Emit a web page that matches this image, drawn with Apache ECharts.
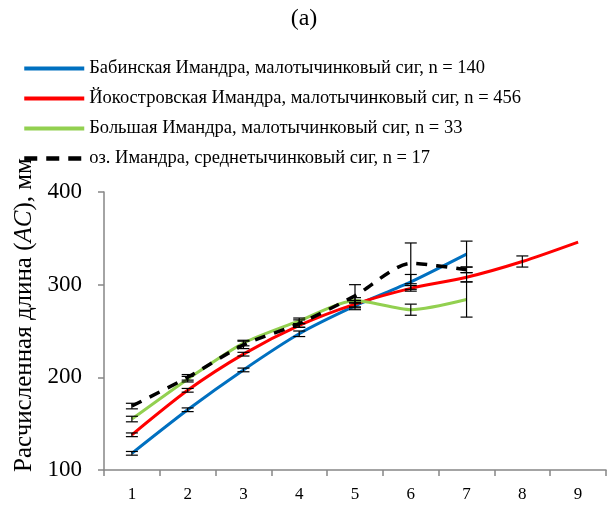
<!DOCTYPE html>
<html>
<head>
<meta charset="utf-8">
<script src="https://cdn.jsdelivr.net/npm/echarts@6/dist/echarts.min.js"></script>
<style>html,body{margin:0;padding:0;background:#fff;}#c{width:608px;height:519px;}</style>
</head>
<body>
<div id="c"></div>
<script>
const categories = ['1','2','3','4','5','6','7','8','9'];
const yTicks = [100, 200, 300, 400];
const seriesNames = [
  'Бабинская Имандра, малотычинковый сиг, n = 140',
  'Йокостровская Имандра, малотычинковый сиг, n = 456',
  'Большая Имандра, малотычинковый сиг, n = 33',
  'оз. Имандра, среднетычинковый сиг, n = 17'
];
const babinska  = [118, 165, 208, 247, 277, 303, 333, null, null];
const yokostrov = [138, 186, 225, 256, 279, 296, 308, 325, 346];
const bolshaya  = [155, 198, 237, 261, 283, 273, 284, null, null];
const imandra   = [169, 200, 235, 258, 288, 323, 316, null, null];
const babinskaErr  = [2, 2, 2, 3, 4, 8, 14, null, null];
const yokostrovErr = [2, 2, 2, 2, 4, 3, 5, 6, null];
const bolshayaErr  = [3, 3, 3, 3, 3, 6, 19, null, null];
const imandraErr   = [3, 3, 4, 4, 12, 22, 3, null, null];

const FONT = "'Liberation Serif', 'Times New Roman', serif";
const chart = echarts.init(document.getElementById('c'));

function errData(vals, errs) {
  const out = [];
  vals.forEach((v, i) => {
    if (v != null && errs[i] != null) out.push([i, v, v - errs[i], v + errs[i]]);
  });
  return out;
}
function errSeries(vals, errs) {
  return {
    type: 'custom',
    z: 10,
    silent: true,
    renderItem: function (params, api) {
      const lo = api.coord([api.value(0), api.value(2)]);
      const hi = api.coord([api.value(0), api.value(3)]);
      const w = 6;
      const st = { stroke: '#000', lineWidth: 1.2 };
      return {
        type: 'group',
        children: [
          { type: 'line', shape: { x1: lo[0], y1: lo[1], x2: hi[0], y2: hi[1] }, style: st },
          { type: 'line', shape: { x1: lo[0] - w, y1: lo[1], x2: lo[0] + w, y2: lo[1] }, style: st },
          { type: 'line', shape: { x1: hi[0] - w, y1: hi[1], x2: hi[0] + w, y2: hi[1] }, style: st }
        ]
      };
    },
    data: errData(vals, errs)
  };
}
function lineSeries(name, data, color, dashed) {
  return {
    name: name,
    type: 'line',
    data: data,
    smooth: 0.25,
    symbol: 'none',
    z: 5,
    lineStyle: { color: color, width: dashed ? 3.5 : 3, type: dashed ? [11, 9] : 'solid', cap: 'butt' },
    itemStyle: { color: color }
  };
}

const legendText = { fontFamily: FONT, fontSize: 18.5, color: '#000' };
chart.setOption({
  animation: false,
  backgroundColor: '#fff',
  title: {
    text: '(a)', left: 'center', top: 2,
    textStyle: { fontFamily: FONT, fontSize: 24, fontWeight: 'normal', color: '#000' }
  },
  legend: {
    data: [
      { name: seriesNames[0], icon: 'rect' },
      { name: seriesNames[1], icon: 'rect' },
      { name: seriesNames[2], icon: 'rect' },
      { name: seriesNames[3], lineStyle: { width: 4.5, type: [13, 9], color: '#000' } }
    ],
    orient: 'vertical', left: 17, top: 54,
    itemWidth: 60, itemHeight: 4, itemGap: 11, textStyle: legendText
  },
  grid: { left: 104, right: 2, top: 192, bottom: 49 },
  xAxis: {
    type: 'category', data: categories, boundaryGap: true,
    axisLine: { lineStyle: { color: '#868686', width: 1.5 } },
    axisTick: { show: true, length: 6, lineStyle: { color: '#868686', width: 1.5 } },
    axisLabel: { fontFamily: FONT, fontSize: 17, color: '#000', margin: 16 }
  },
  yAxis: {
    type: 'value', min: 100, max: 400, interval: 100,
    name: '{n|Расчисленная длина (}{i|AC}{n|), мм}',
    nameLocation: 'middle', nameGap: 67, nameRotate: 90,
    nameTextStyle: {
      padding: [0, 0, 0, 32],
      rich: {
        n: { fontFamily: FONT, fontSize: 25, color: '#000' },
        i: { fontFamily: FONT, fontSize: 25, color: '#000', fontStyle: 'italic' }
      }
    },
    axisLine: { show: true, lineStyle: { color: '#868686', width: 1.5 } },
    axisTick: { show: true, length: 6, lineStyle: { color: '#868686', width: 1.5 } },
    splitLine: { show: false },
    axisLabel: {
      fontFamily: FONT, fontSize: 23, color: '#000', margin: 22,
      formatter: v => (yTicks.indexOf(v) >= 0 ? String(v) : '')
    }
  },
  series: [
    lineSeries(seriesNames[0], babinska, '#0070C0', false),
    lineSeries(seriesNames[1], yokostrov, '#FF0000', false),
    lineSeries(seriesNames[2], bolshaya, '#92D050', false),
    lineSeries(seriesNames[3], imandra, '#000000', true),
    errSeries(babinska, babinskaErr),
    errSeries(yokostrov, yokostrovErr),
    errSeries(bolshaya, bolshayaErr),
    errSeries(imandra, imandraErr)
  ]
});
</script>
</body>
</html>
